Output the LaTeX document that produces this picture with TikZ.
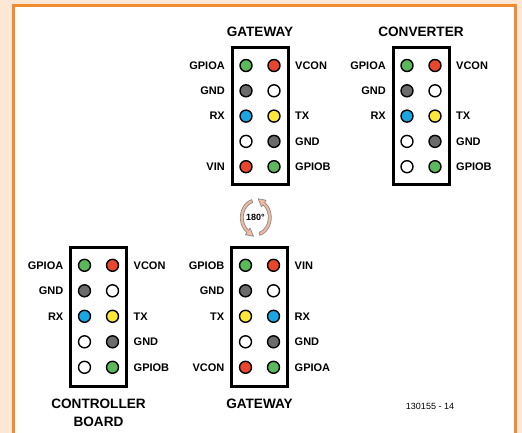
\documentclass[tikz,border=0pt]{standalone}
\usepackage{fontspec}
\setmainfont{Liberation Sans}
\usetikzlibrary{calc}
\definecolor{peach}{HTML}{FDE8D6}
\definecolor{frameor}{HTML}{F28A30}
\definecolor{pgreen}{HTML}{5CB85C}
\definecolor{pred}{HTML}{E8472E}
\definecolor{pgray}{HTML}{6B6B6B}
\definecolor{pblue}{HTML}{1AA6E3}
\definecolor{pyellow}{HTML}{FFE838}
\definecolor{rotfill}{HTML}{F2B9A0}
\definecolor{rotline}{HTML}{8A8A8A}
\newcommand{\pinheader}[7]{% name, cx, cy, height, first row y, row step, rows
  \node[hdrbox, minimum height=#4pt] (#1) at (#2,#3) {};
  \foreach \ll/\cl/\cr/\lr [count=\i] in {#7} {
    \pgfmathsetmacro\yy{#5+(\i-1)*#6}
    \node[pinc=\cl] (#1-l\i) at (#2-14,\yy) {};
    \node[pinc=\cr] (#1-r\i) at (#2+14,\yy) {};
    \ifx\ll\empty\else\node[lbl, anchor=east] (#1-tl\i) at (#2-35,\yy) {\ll};\fi
    \ifx\lr\empty\else\node[lbl, anchor=west] (#1-tr\i) at (#2+35,\yy) {\lr};\fi
  }
}
\begin{document}
\begin{tikzpicture}[x=1pt,y=-1pt,
  hdrbox/.style={draw=black, line width=3pt, minimum width=56pt, inner sep=0pt},
  pinc/.style={circle, draw=black, line width=1.4pt, minimum size=12pt, inner sep=0pt, fill=#1},
  lbl/.style={font=\bfseries\fontsize{11}{11}\selectfont, inner sep=0pt},
  ttl/.style={font=\bfseries\fontsize{13.6}{18}\selectfont, inner sep=0pt, align=center},
  rot/.style={fill=rotfill, draw=rotline, line width=0.7pt, line join=round},
]
\useasboundingbox (0,0) rectangle (522,433);
\fill[peach] (0,0) rectangle (522,433);
\draw[frameor, line width=3pt, fill=white] (13.7,5.3) rectangle (515.7,445);

% top gateway
\pinheader{gwtop}{260}{116}{136}{65.5}{25.3}{GPIOA/pgreen/pred/VCON, GND/pgray/white/, RX/pblue/pyellow/TX, /white/pgray/GND, VIN/pred/pgreen/GPIOB}
\node[ttl] (gwtop-t) at (260,32) {GATEWAY};

% converter
\pinheader{conv}{421}{116}{136}{65.5}{25.3}{GPIOA/pgreen/pred/VCON, GND/pgray/white/, RX/pblue/pyellow/TX, /white/pgray/GND, /white/pgreen/GPIOB}
\node[ttl] (conv-t) at (421,32) {CONVERTER};

% controller board
\pinheader{ctrl}{98.5}{316.5}{139}{265.3}{25.5}{GPIOA/pgreen/pred/VCON, GND/pgray/white/, RX/pblue/pyellow/TX, /white/pgray/GND, /white/pgreen/GPIOB}
\node[ttl] (ctrl-t) at (98.5,413) {CONTROLLER\\BOARD};

% bottom gateway (rotated)
\pinheader{gwbot}{259.5}{316.5}{139}{265.3}{25.5}{GPIOB/pgreen/pred/VIN, GND/pgray/white/, TX/pyellow/pblue/RX, /white/pgray/GND, VCON/pred/pgreen/GPIOA}
\node[ttl] (gwbot-t) at (259.5,404) {GATEWAY};

% rotation symbol
\begin{scope}[shift={(255.8,217.5)}, yscale=-1]
  \draw[rot] (105:15.5 and 18.5) arc[start angle=105, end angle=235, x radius=15.5, y radius=18.5]
     -- (235:18 and 21) -- ($(235:14 and 17)+(319.7:7.5)$) -- (235:10 and 13) -- (235:12.5 and 15.5)
     arc[start angle=235, end angle=105, x radius=12.5, y radius=15.5] -- cycle;
  \draw[rot] (-75:15.5 and 18.5) arc[start angle=-75, end angle=55, x radius=15.5, y radius=18.5]
     -- (55:18 and 21) -- ($(55:14 and 17)+(139.7:7.5)$) -- (55:10 and 13) -- (55:12.5 and 15.5)
     arc[start angle=55, end angle=-75, x radius=12.5, y radius=15.5] -- cycle;
\end{scope}
\node[font=\bfseries\fontsize{9}{9}\selectfont, inner sep=0pt] (rot-t) at (255.5,217.5) {180°};

\node[font=\fontsize{9}{9}\selectfont, inner sep=0pt] (code) at (430,406) {130155 - 14};
\end{tikzpicture}
\end{document}
